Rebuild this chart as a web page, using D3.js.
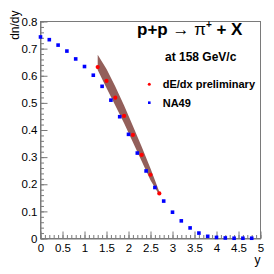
<!DOCTYPE html>
<html>
<head>
<meta charset="utf-8">
<script src="https://cdn.jsdelivr.net/npm/d3@7"></script>
<style>
  body { margin: 0; background: #fff; }
  text { font-family: "Liberation Sans", Arial, sans-serif; }
</style>
</head>
<body>
<div id="chart"></div>
<script>
// NA49 points (blue squares)
var na49Y = [0.0, 0.2, 0.4, 0.6, 0.8, 1.0, 1.2, 1.4, 1.6, 1.8, 2.0, 2.2, 2.4,
             2.6, 2.8, 3.0, 3.2, 3.4, 3.6, 3.8, 4.0, 4.2, 4.4, 4.6, 4.8];
var na49Dn = [0.743, 0.733, 0.713, 0.691, 0.662, 0.634, 0.602, 0.561, 0.510, 0.449,
              0.384, 0.315, 0.249, 0.188, 0.138, 0.097, 0.065, 0.039, 0.020, 0.008,
              0.004, 0.002, 0.001, 0.001, 0.001];

// dE/dx preliminary (red circles) with band
var dedxY = [1.3, 1.5, 1.7, 1.9, 2.1, 2.3, 2.5, 2.7];
var dedxDn = [0.632, 0.581, 0.519, 0.452, 0.382, 0.308, 0.235, 0.166];
var bandUp = [0.677, 0.625, 0.560, 0.490, 0.415, 0.338, 0.258, 0.172];
var bandLo = [0.621, 0.555, 0.490, 0.425, 0.355, 0.285, 0.215, 0.160];

var margin = {top: 21.5, right: 13.5, bottom: 35.5, left: 40.5},
    width = 274 - margin.left - margin.right,
    height = 274 - margin.top - margin.bottom;

var svg = d3.select("#chart")
  .append("svg")
    .attr("width", 274)
    .attr("height", 274)
  .append("g")
    .attr("transform", "translate(" + margin.left + "," + margin.top + ")");

var x = d3.scaleLinear().domain([0, 5]).range([0, width]);
var y = d3.scaleLinear().domain([0, 0.8]).range([height, 0]);

var axisColor = "#7a7a7a";

// frame
svg.append("rect")
  .attr("width", width)
  .attr("height", height)
  .attr("fill", "none")
  .attr("stroke", axisColor);

// minor ticks
var xMinor = d3.range(0, 51).map(function(i) { return i / 10; });
var yMinor = d3.range(0, 41).map(function(i) { return i * 0.02; });

svg.append("g")
  .attr("transform", "translate(0," + height + ")")
  .call(d3.axisBottom(x).tickValues(xMinor).tickSize(-3.5).tickFormat(""))
  .call(function(g) { g.select(".domain").remove(); g.selectAll("line").attr("stroke", axisColor); });

svg.append("g")
  .call(d3.axisLeft(y).tickValues(yMinor).tickSize(-3.5).tickFormat(""))
  .call(function(g) { g.select(".domain").remove(); g.selectAll("line").attr("stroke", axisColor); });

// major ticks + labels
svg.append("g")
  .attr("transform", "translate(0," + height + ")")
  .call(d3.axisBottom(x).tickValues(d3.range(0, 11).map(function(i) { return i / 2; }))
    .tickSizeInner(-7).tickSizeOuter(0).tickPadding(5.5).tickFormat(d3.format("~g")))
  .call(function(g) {
    g.select(".domain").attr("stroke", axisColor);
    g.selectAll("line").attr("stroke", axisColor);
    g.selectAll("text").attr("font-size", "11.5px").attr("fill", "#000")
      .style("font-family", "'Liberation Sans', Arial, sans-serif");
  });

svg.append("g")
  .call(d3.axisLeft(y).tickValues(d3.range(0, 9).map(function(i) { return i / 10; }))
    .tickSizeInner(-7).tickSizeOuter(0).tickPadding(3).tickFormat(d3.format("~g")))
  .call(function(g) {
    g.select(".domain").attr("stroke", axisColor);
    g.selectAll("line").attr("stroke", axisColor);
    g.selectAll("text").attr("font-size", "11.5px").attr("fill", "#000")
      .style("font-family", "'Liberation Sans', Arial, sans-serif");
  });

// axis titles
svg.append("text")
  .attr("x", width)
  .attr("y", height + 25)
  .attr("text-anchor", "end")
  .attr("font-size", "12px")
  .text("y");

svg.append("text")
  .attr("transform", "translate(-22,-11) rotate(-90)")
  .attr("text-anchor", "end")
  .attr("font-size", "12px")
  .text("dn/dy");

// band
var bandPts = dedxY.map(function(v, i) { return [x(v), y(bandUp[i])]; })
  .concat(dedxY.slice().reverse().map(function(v, i) {
    var j = dedxY.length - 1 - i;
    return [x(v), y(bandLo[j])];
  }));

svg.append("path")
  .attr("d", d3.line()(bandPts) + "Z")
  .attr("fill", "#935f5a");

// NA49 squares
svg.selectAll(".na49")
  .data(na49Y)
  .enter()
  .append("rect")
  .attr("x", function(d) { return x(d) - 1.8; })
  .attr("y", function(d, i) { return y(na49Dn[i]) - 1.8; })
  .attr("width", 3.6)
  .attr("height", 3.6)
  .attr("fill", "#0000ff");

// dE/dx circles
svg.selectAll(".dedx")
  .data(dedxY)
  .enter()
  .append("circle")
  .attr("cx", function(d) { return x(d); })
  .attr("cy", function(d, i) { return y(dedxDn[i]); })
  .attr("r", 2.1)
  .attr("fill", "#ff0000");

// title
var title = svg.append("text")
  .attr("x", 137 - margin.left)
  .attr("y", 35 - margin.top)
  .attr("font-size", "17px")
  .attr("font-weight", "bold");
title.append("tspan").text("p+p ");
title.append("tspan").attr("font-weight", "normal").text("\u2192 \u03c0");
title.append("tspan").attr("font-size", "10px").attr("dy", "-7").text("+");
title.append("tspan").attr("dy", "7").text(" + X");

svg.append("text")
  .attr("x", 165 - margin.left)
  .attr("y", 61 - margin.top)
  .attr("font-size", "12px")
  .attr("font-weight", "bold")
  .text("at 158 GeV/c");

// legend
svg.append("circle")
  .attr("cx", 149.3 - margin.left)
  .attr("cy", 84.3 - margin.top)
  .attr("r", 1.5)
  .attr("fill", "#ff0000");
svg.append("text")
  .attr("x", 162.7 - margin.left)
  .attr("y", 88 - margin.top)
  .attr("font-size", "11px")
  .attr("font-weight", "bold")
  .text("dE/dx preliminary");

svg.append("rect")
  .attr("x", 148 - margin.left)
  .attr("y", 101.4 - margin.top)
  .attr("width", 2.6)
  .attr("height", 2.6)
  .attr("fill", "#0000ff");
svg.append("text")
  .attr("x", 162.7 - margin.left)
  .attr("y", 106.5 - margin.top)
  .attr("font-size", "11px")
  .attr("font-weight", "bold")
  .text("NA49");
</script>
</body>
</html>
